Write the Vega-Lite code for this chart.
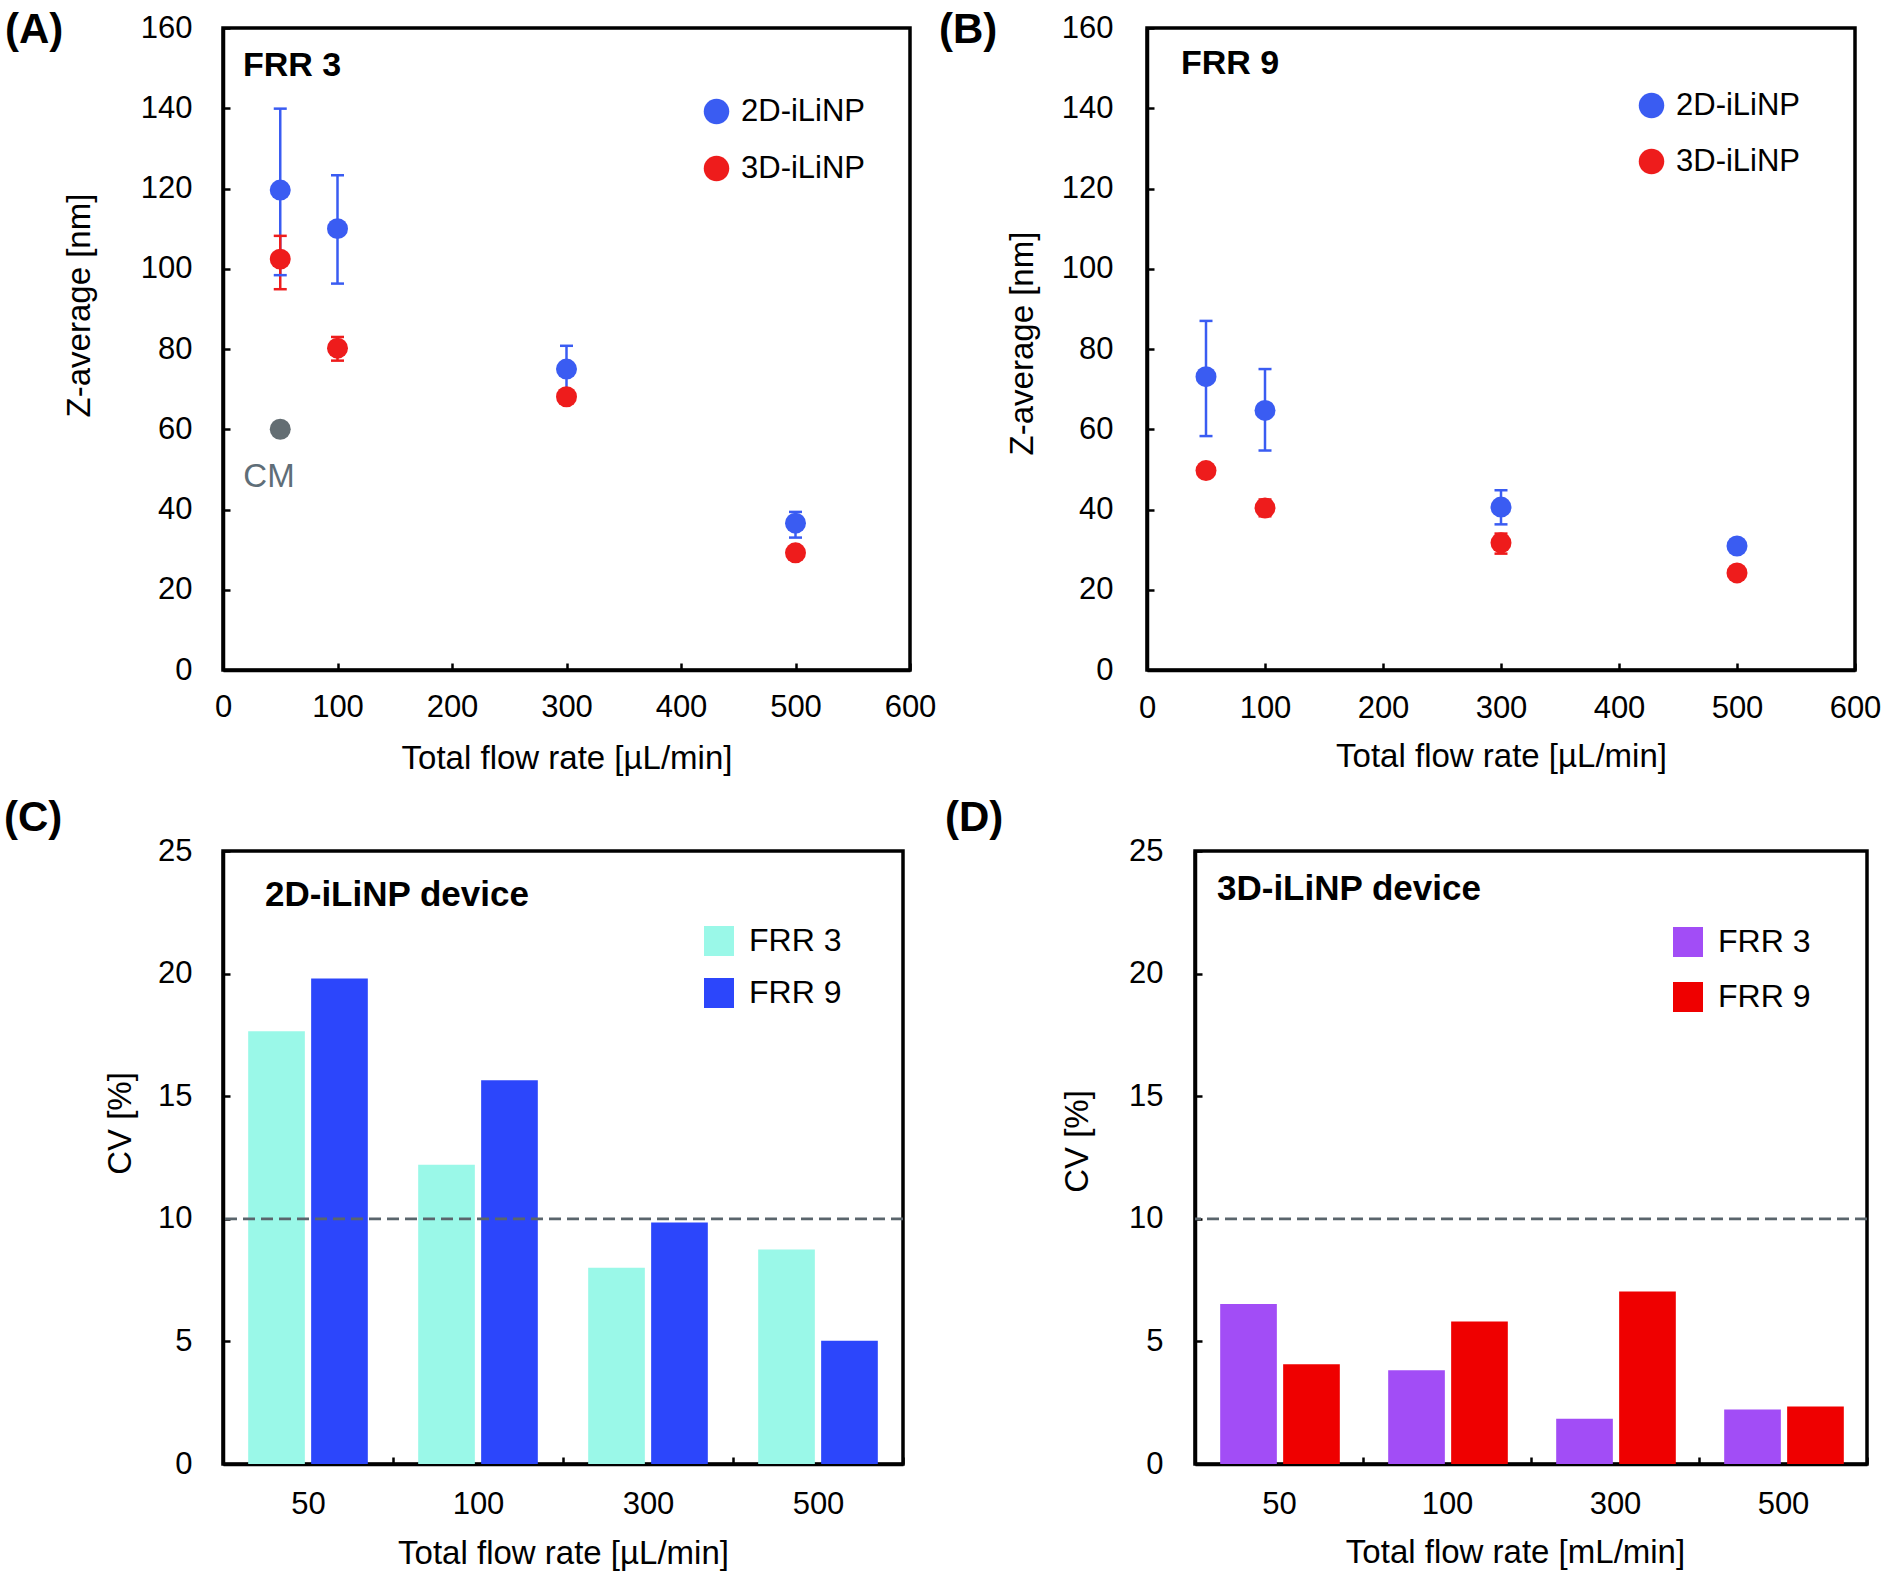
{
  "$schema": "https://vega.github.io/schema/vega-lite/v6.json",
  "background": "white",
  "padding": {"left": 2, "top": 7, "right": 10, "bottom": 10},
  "datasets": {
    "zavg": [
      {"frr": "FRR 3", "device": "2D-iLiNP", "flow": 50, "z": 119.6, "lo": 98.4, "hi": 139.9},
      {"frr": "FRR 3", "device": "2D-iLiNP", "flow": 100, "z": 110.0, "lo": 96.3, "hi": 123.3},
      {"frr": "FRR 3", "device": "2D-iLiNP", "flow": 300, "z": 75.0, "lo": 69.2, "hi": 80.8},
      {"frr": "FRR 3", "device": "2D-iLiNP", "flow": 500, "z": 36.6, "lo": 33.0, "hi": 39.4},
      {"frr": "FRR 3", "device": "3D-iLiNP", "flow": 50, "z": 102.4, "lo": 94.9, "hi": 108.2},
      {"frr": "FRR 3", "device": "3D-iLiNP", "flow": 100, "z": 80.2, "lo": 77.1, "hi": 83.0},
      {"frr": "FRR 3", "device": "3D-iLiNP", "flow": 300, "z": 68.1, "lo": 67.0, "hi": 69.2},
      {"frr": "FRR 3", "device": "3D-iLiNP", "flow": 500, "z": 29.2, "lo": 28.5, "hi": 29.9},
      {"frr": "FRR 3", "device": "CM", "flow": 50, "z": 60.0},
      {"frr": "FRR 9", "device": "2D-iLiNP", "flow": 50, "z": 73.1, "lo": 58.3, "hi": 87.0},
      {"frr": "FRR 9", "device": "2D-iLiNP", "flow": 100, "z": 64.7, "lo": 54.7, "hi": 75.0},
      {"frr": "FRR 9", "device": "2D-iLiNP", "flow": 300, "z": 40.6, "lo": 36.3, "hi": 44.8},
      {"frr": "FRR 9", "device": "2D-iLiNP", "flow": 500, "z": 30.9, "lo": 29.9, "hi": 31.9},
      {"frr": "FRR 9", "device": "3D-iLiNP", "flow": 50, "z": 49.7, "lo": 49.0, "hi": 50.4},
      {"frr": "FRR 9", "device": "3D-iLiNP", "flow": 100, "z": 40.4, "lo": 38.3, "hi": 42.5},
      {"frr": "FRR 9", "device": "3D-iLiNP", "flow": 300, "z": 31.7, "lo": 29.0, "hi": 34.0},
      {"frr": "FRR 9", "device": "3D-iLiNP", "flow": 500, "z": 24.2, "lo": 23.6, "hi": 24.8}
    ],
    "cv": [
      {"device": "2D-iLiNP", "flow": "50", "frr": "FRR 3", "cv": 17.65},
      {"device": "2D-iLiNP", "flow": "50", "frr": "FRR 9", "cv": 19.8},
      {"device": "2D-iLiNP", "flow": "100", "frr": "FRR 3", "cv": 12.2},
      {"device": "2D-iLiNP", "flow": "100", "frr": "FRR 9", "cv": 15.65},
      {"device": "2D-iLiNP", "flow": "300", "frr": "FRR 3", "cv": 8.0},
      {"device": "2D-iLiNP", "flow": "300", "frr": "FRR 9", "cv": 9.85},
      {"device": "2D-iLiNP", "flow": "500", "frr": "FRR 3", "cv": 8.75},
      {"device": "2D-iLiNP", "flow": "500", "frr": "FRR 9", "cv": 5.03},
      {"device": "3D-iLiNP", "flow": "50", "frr": "FRR 3", "cv": 6.53},
      {"device": "3D-iLiNP", "flow": "50", "frr": "FRR 9", "cv": 4.07},
      {"device": "3D-iLiNP", "flow": "100", "frr": "FRR 3", "cv": 3.82},
      {"device": "3D-iLiNP", "flow": "100", "frr": "FRR 9", "cv": 5.81},
      {"device": "3D-iLiNP", "flow": "300", "frr": "FRR 3", "cv": 1.85},
      {"device": "3D-iLiNP", "flow": "300", "frr": "FRR 9", "cv": 7.03},
      {"device": "3D-iLiNP", "flow": "500", "frr": "FRR 3", "cv": 2.22},
      {"device": "3D-iLiNP", "flow": "500", "frr": "FRR 9", "cv": 2.34}
    ]
  },
  "spacing": 18,
  "resolve": {"scale": {"color": "independent"}},
  "vconcat": [
    {
      "bounds": "flush",
      "spacing": 237,
      "resolve": {"scale": {"color": "independent"}},
      "hconcat": [
        {
          "width": 687,
          "height": 642,
          "title": {"text": "(A)", "dx": -218, "offset": -40},
          "layer": [
            {"data": {"name": "zavg"},
             "transform": [{"filter": "datum.frr === 'FRR 3' && isValid(datum.lo)"}],
             "mark": {"type": "rule", "strokeWidth": 2.5},
             "encoding": {
               "x": {"field": "flow", "type": "quantitative", "scale": {"domain": [0, 600], "nice": false}},
               "y": {"field": "lo", "type": "quantitative", "scale": {"domain": [0, 160], "nice": false}},
               "y2": {"field": "hi"},
               "color": {"field": "device", "type": "nominal", "scale": {"domain": ["2D-iLiNP", "3D-iLiNP", "CM"], "range": ["#3a5cf2", "#ee1c1c", "#646e73"]}}}},
            {"data": {"name": "zavg"},
             "transform": [{"filter": "datum.frr === 'FRR 3' && isValid(datum.lo)"}],
             "mark": {"type": "tick", "orient": "horizontal", "size": 13, "thickness": 2.5, "opacity": 1},
             "encoding": {
               "x": {"field": "flow", "type": "quantitative", "scale": {"domain": [0, 600], "nice": false}},
               "y": {"field": "lo", "type": "quantitative", "scale": {"domain": [0, 160], "nice": false}},
               "color": {"field": "device", "type": "nominal", "scale": {"domain": ["2D-iLiNP", "3D-iLiNP", "CM"], "range": ["#3a5cf2", "#ee1c1c", "#646e73"]}}}},
            {"data": {"name": "zavg"},
             "transform": [{"filter": "datum.frr === 'FRR 3' && isValid(datum.lo)"}],
             "mark": {"type": "tick", "orient": "horizontal", "size": 13, "thickness": 2.5, "opacity": 1},
             "encoding": {
               "x": {"field": "flow", "type": "quantitative", "scale": {"domain": [0, 600], "nice": false}},
               "y": {"field": "hi", "type": "quantitative", "scale": {"domain": [0, 160], "nice": false}},
               "color": {"field": "device", "type": "nominal", "scale": {"domain": ["2D-iLiNP", "3D-iLiNP", "CM"], "range": ["#3a5cf2", "#ee1c1c", "#646e73"]}}}},
            {"data": {"name": "zavg"},
             "transform": [{"filter": "datum.frr === 'FRR 3'"}],
             "mark": {"type": "circle", "size": 440, "opacity": 1},
             "encoding": {
               "x": {"field": "flow", "type": "quantitative", "scale": {"domain": [0, 600], "nice": false},
                     "axis": {"values": [0, 100, 200, 300, 400, 500, 600], "title": "Total flow rate [µL/min]", "labelPadding": 29, "titlePadding": 20}},
               "y": {"field": "z", "type": "quantitative", "scale": {"domain": [0, 160], "nice": false},
                     "axis": {"values": [0, 20, 40, 60, 80, 100, 120, 140, 160], "title": "Z-average [nm]", "labelPadding": 38, "titlePadding": 44, "titleY": 277}},
               "color": {"field": "device", "type": "nominal",
                         "scale": {"domain": ["2D-iLiNP", "3D-iLiNP", "CM"], "range": ["#3a5cf2", "#ee1c1c", "#646e73"]},
                         "legend": {"values": ["2D-iLiNP", "3D-iLiNP"], "title": null, "orient": "none", "legendX": 478, "legendY": 68, "symbolType": "circle", "symbolSize": 650, "rowPadding": 25, "labelOffset": 9}}}},
            {"data": {"values": [{"note": "FRR 3"}]},
             "mark": {"type": "text", "font": "Liberation Sans", "fontSize": 34, "fontWeight": "bold", "align": "left", "baseline": "alphabetic", "color": "#000000"},
             "encoding": {"x": {"datum": 17.5, "type": "quantitative", "scale": {"domain": [0, 600], "nice": false}},
                          "y": {"datum": 148, "type": "quantitative", "scale": {"domain": [0, 160], "nice": false}},
                          "text": {"field": "note"}}},
            {"data": {"values": [{"note": "CM"}]},
             "mark": {"type": "text", "font": "Liberation Sans", "fontSize": 33, "align": "center", "baseline": "alphabetic", "color": "#5f6e78"},
             "encoding": {"x": {"datum": 40.2, "type": "quantitative", "scale": {"domain": [0, 600], "nice": false}},
                          "y": {"datum": 45.6, "type": "quantitative", "scale": {"domain": [0, 160], "nice": false}},
                          "text": {"field": "note"}}}
          ]
        },
        {
          "width": 708,
          "height": 642,
          "title": {"text": "(B)", "dx": -208, "offset": -40},
          "layer": [
            {"data": {"name": "zavg"},
             "transform": [{"filter": "datum.frr === 'FRR 9' && isValid(datum.lo)"}],
             "mark": {"type": "rule", "strokeWidth": 2.5},
             "encoding": {
               "x": {"field": "flow", "type": "quantitative", "scale": {"domain": [0, 600], "nice": false}},
               "y": {"field": "lo", "type": "quantitative", "scale": {"domain": [0, 160], "nice": false}},
               "y2": {"field": "hi"},
               "color": {"field": "device", "type": "nominal", "scale": {"domain": ["2D-iLiNP", "3D-iLiNP"], "range": ["#3a5cf2", "#ee1c1c"]}}}},
            {"data": {"name": "zavg"},
             "transform": [{"filter": "datum.frr === 'FRR 9' && isValid(datum.lo)"}],
             "mark": {"type": "tick", "orient": "horizontal", "size": 13, "thickness": 2.5, "opacity": 1},
             "encoding": {
               "x": {"field": "flow", "type": "quantitative", "scale": {"domain": [0, 600], "nice": false}},
               "y": {"field": "lo", "type": "quantitative", "scale": {"domain": [0, 160], "nice": false}},
               "color": {"field": "device", "type": "nominal", "scale": {"domain": ["2D-iLiNP", "3D-iLiNP"], "range": ["#3a5cf2", "#ee1c1c"]}}}},
            {"data": {"name": "zavg"},
             "transform": [{"filter": "datum.frr === 'FRR 9' && isValid(datum.lo)"}],
             "mark": {"type": "tick", "orient": "horizontal", "size": 13, "thickness": 2.5, "opacity": 1},
             "encoding": {
               "x": {"field": "flow", "type": "quantitative", "scale": {"domain": [0, 600], "nice": false}},
               "y": {"field": "hi", "type": "quantitative", "scale": {"domain": [0, 160], "nice": false}},
               "color": {"field": "device", "type": "nominal", "scale": {"domain": ["2D-iLiNP", "3D-iLiNP"], "range": ["#3a5cf2", "#ee1c1c"]}}}},
            {"data": {"name": "zavg"},
             "transform": [{"filter": "datum.frr === 'FRR 9'"}],
             "mark": {"type": "circle", "size": 440, "opacity": 1},
             "encoding": {
               "x": {"field": "flow", "type": "quantitative", "scale": {"domain": [0, 600], "nice": false},
                     "axis": {"values": [0, 100, 200, 300, 400, 500, 600], "title": "Total flow rate [µL/min]", "labelPadding": 30, "titlePadding": 17}},
               "y": {"field": "z", "type": "quantitative", "scale": {"domain": [0, 160], "nice": false},
                     "axis": {"values": [0, 20, 40, 60, 80, 100, 120, 140, 160], "title": "Z-average [nm]", "labelPadding": 41, "titlePadding": 22, "titleY": 315}},
               "color": {"field": "device", "type": "nominal",
                         "scale": {"domain": ["2D-iLiNP", "3D-iLiNP"], "range": ["#3a5cf2", "#ee1c1c"]},
                         "legend": {"title": null, "orient": "none", "legendX": 489, "legendY": 62, "symbolType": "circle", "symbolSize": 650, "rowPadding": 24, "labelOffset": 9}}}},
            {"data": {"values": [{"note": "FRR 9"}]},
             "mark": {"type": "text", "font": "Liberation Sans", "fontSize": 34, "fontWeight": "bold", "align": "left", "baseline": "alphabetic", "color": "#000000"},
             "encoding": {"x": {"datum": 28.8, "type": "quantitative", "scale": {"domain": [0, 600], "nice": false}},
                          "y": {"datum": 148.5, "type": "quantitative", "scale": {"domain": [0, 160], "nice": false}},
                          "text": {"field": "note"}}}
          ]
        }
      ]
    },
    {
      "bounds": "flush",
      "spacing": 292,
      "resolve": {"scale": {"color": "independent"}},
      "hconcat": [
        {
          "width": 680,
          "height": 613,
          "title": {"text": "(C)", "dx": -219, "offset": -5},
          "layer": [
            {"data": {"name": "cv"},
             "transform": [{"filter": "datum.device === '2D-iLiNP'"}],
             "mark": {"type": "bar"},
             "encoding": {
               "x": {"field": "flow", "type": "ordinal", "scale": {"domain": ["50", "100", "300", "500"], "paddingInner": 0, "paddingOuter": 0},
                     "axis": {"tickBand": "extent", "labelAngle": 0, "title": "Total flow rate [µL/min]", "labelPadding": 32, "titlePadding": 18}},
               "xOffset": {"field": "frr", "type": "nominal", "scale": {"domain": ["FRR 3", "FRR 9"], "paddingInner": 0.1, "paddingOuter": 0.4}},
               "y": {"field": "cv", "type": "quantitative", "scale": {"domain": [0, 25], "nice": false},
                     "axis": {"values": [0, 5, 10, 15, 20, 25], "title": "CV [%]", "labelPadding": 38, "titlePadding": 20, "titleY": 272}},
               "color": {"field": "frr", "type": "nominal", "scale": {"domain": ["FRR 3", "FRR 9"], "range": ["#9af8e8", "#2c46fb"]},
                         "legend": {"title": null, "orient": "none", "legendX": 480, "legendY": 74, "symbolType": "square", "symbolSize": 900, "labelFontSize": 32, "rowPadding": 20, "labelOffset": 14}}
             }},
            {"data": {"values": [{}]},
             "mark": {"type": "rule", "strokeDash": [12, 6], "strokeWidth": 2.8, "color": "#5a656c"},
             "encoding": {"y": {"datum": 10, "type": "quantitative"}}},
            {"data": {"values": [{}]},
             "mark": {"type": "text", "text": "2D-iLiNP device", "font": "Liberation Sans", "fontSize": 35, "fontWeight": "bold", "align": "left", "baseline": "alphabetic", "dx": -43, "color": "#000000"},
             "encoding": {"x": {"datum": "50", "type": "ordinal"},
                          "y": {"datum": 22.76, "type": "quantitative"}}}
          ]
        },
        {
          "width": 672,
          "height": 613,
          "title": {"text": "(D)", "dx": -250, "offset": -5},
          "layer": [
            {"data": {"name": "cv"},
             "transform": [{"filter": "datum.device === '3D-iLiNP'"}],
             "mark": {"type": "bar"},
             "encoding": {
               "x": {"field": "flow", "type": "ordinal", "scale": {"domain": ["50", "100", "300", "500"], "paddingInner": 0, "paddingOuter": 0},
                     "axis": {"tickBand": "extent", "labelAngle": 0, "title": "Total flow rate [mL/min]", "labelPadding": 32, "titlePadding": 17, "titleX": 320}},
               "xOffset": {"field": "frr", "type": "nominal", "scale": {"domain": ["FRR 3", "FRR 9"], "paddingInner": 0.1, "paddingOuter": 0.4}},
               "y": {"field": "cv", "type": "quantitative", "scale": {"domain": [0, 25], "nice": false},
                     "axis": {"values": [0, 5, 10, 15, 20, 25], "title": "CV [%]", "labelPadding": 39, "titlePadding": 34, "titleY": 290}},
               "color": {"field": "frr", "type": "nominal", "scale": {"domain": ["FRR 3", "FRR 9"], "range": ["#a24df6", "#ef0000"]},
                         "legend": {"title": null, "orient": "none", "legendX": 477, "legendY": 75, "symbolType": "square", "symbolSize": 900, "labelFontSize": 32, "rowPadding": 23, "labelOffset": 14}}
             }},
            {"data": {"values": [{}]},
             "mark": {"type": "rule", "strokeDash": [12, 6], "strokeWidth": 2.8, "color": "#5a656c"},
             "encoding": {"y": {"datum": 10, "type": "quantitative"}}},
            {"data": {"values": [{}]},
             "mark": {"type": "text", "text": "3D-iLiNP device", "font": "Liberation Sans", "fontSize": 35, "fontWeight": "bold", "align": "left", "baseline": "alphabetic", "dx": -62, "color": "#000000"},
             "encoding": {"x": {"datum": "50", "type": "ordinal"},
                          "y": {"datum": 23.0, "type": "quantitative"}}}
          ]
        }
      ]
    }
  ],
  "config": {
    "font": "Liberation Sans",
    "view": {"stroke": "#000000", "strokeWidth": 3.5},
    "axis": {"domainColor": "#000000", "domainWidth": 3.5, "tickColor": "#000000", "tickWidth": 2.5, "tickSize": -7, "grid": false,
             "labelFont": "Liberation Sans", "labelFontSize": 31, "labelColor": "#000000", "labelFlush": false, "labelOverlap": false,
             "titleFont": "Liberation Sans", "titleFontSize": 33, "titleFontWeight": "normal", "titleColor": "#000000"},
    "legend": {"labelFont": "Liberation Sans", "labelFontSize": 31, "labelColor": "#000000", "padding": 0, "symbolStrokeWidth": 0, "symbolOpacity": 1, "direction": "vertical"},
    "title": {"font": "Liberation Sans", "fontSize": 42, "fontWeight": "bold", "color": "#000000", "anchor": "start", "frame": "group", "baseline": "alphabetic"}
  }
}
